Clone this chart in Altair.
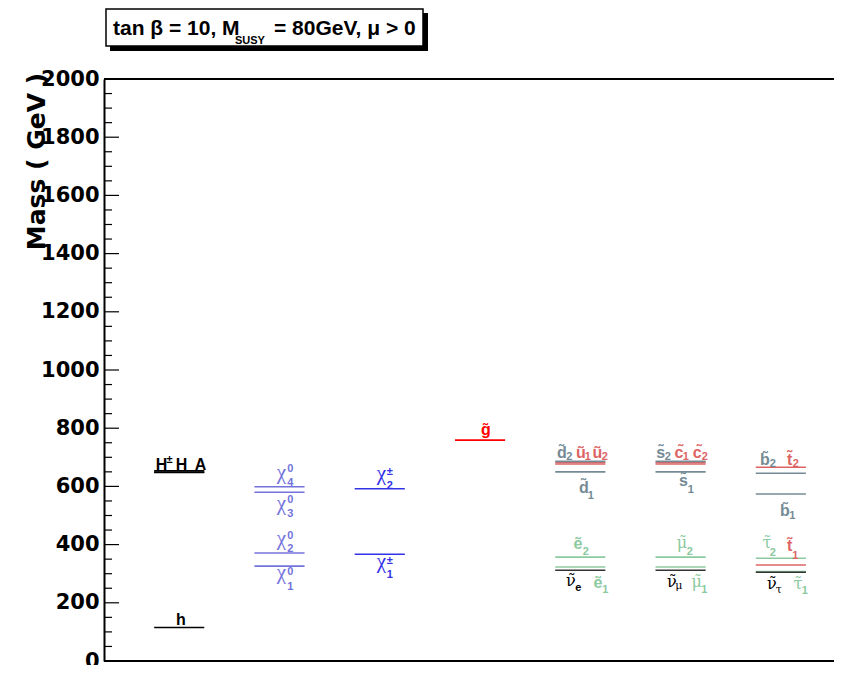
import altair as alt
import pandas as pd

# ---------------- spectrum (GeV) ----------------
P_COL = [0, 0, 0, 0,
         1, 1, 1, 1,
         2, 2,
         3,
         4, 4, 4, 4, 4, 4, 4,
         5, 5, 5, 5, 5, 5, 5,
         6, 6, 6, 6, 6, 6, 6]
P_NAME = ["h", "H±", "H", "A",
          "χ01", "χ02", "χ03", "χ04",
          "χ±1", "χ±2",
          "g̃",
          "ẽ2", "ẽ1", "ũ1", "ũ2", "d̃1", "d̃2", "ν̃e",
          "μ̃2", "μ̃1", "c̃1", "c̃2", "s̃1", "s̃2", "ν̃μ",
          "τ̃2", "τ̃1", "t̃1", "t̃2", "b̃1", "b̃2", "ν̃τ"]
P_MASS = [115, 654, 648, 649,
          326, 371, 580, 599,
          367, 592,
          759,
          357, 323, 677, 682, 650, 686, 312,
          357, 323, 677, 682, 650, 686, 312,
          353, 307, 330, 666, 574, 645, 305]
P_GROUP = (["higgs"] * 4 + ["neutralino"] * 4 + ["chargino"] * 2 + ["gluino"]
           + ["slepton", "slepton", "upsquark", "upsquark", "downsquark", "downsquark", "sneutrino"] * 3)

GROUP_COLOR = {
    "higgs": "#000000",
    "black": "#000000",
    "neutralino": "#7373dc",
    "chargino": "#3232e6",
    "gluino": "#ff0000",
    "downsquark": "#748b96",
    "upsquark": "#dc6464",
    "slepton": "#8ccaa0",
    "sneutrino": "#333333",
}

# ---------------- labels (anchor x in column units, y in GeV) ----------------
L_TEXT = ["h", "H", "±", "H", "A",
          "χ", "0", "4", "χ", "0", "3", "χ", "0", "2", "χ", "0", "1",
          "χ", "±", "2", "χ", "±", "1",
          "g̃",
          "d̃", "2", "ũ", "1", "ũ", "2", "d̃", "1",
          "s̃", "2", "c̃", "1", "c̃", "2", "s̃", "1",
          "b̃", "2", "t̃", "2", "b̃", "1",
          "ẽ", "2", "ν̃", "e", "ẽ", "1",
          "μ̃", "2", "ν̃", "μ", "μ̃", "1",
          "τ̃", "2", "t̃", "1", "ν̃", "τ", "τ̃", "1"]
L_X = [0.768, 0.573, 0.653, 0.773, 0.962,
       1.770, 1.859, 1.859, 1.770, 1.859, 1.859, 1.770, 1.859, 1.859, 1.770, 1.859, 1.859,
       2.767, 2.851, 2.851, 2.767, 2.851, 2.851,
       3.809,
       4.566, 4.641, 4.756, 4.826, 4.920, 4.995, 4.786, 4.855,
       5.553, 5.623, 5.733, 5.803, 5.917, 5.992, 5.778, 5.852,
       6.590, 6.670, 6.839, 6.899, 6.790, 6.864,
       4.726, 4.806, 4.656, 4.731, 4.925, 5.000,
       5.763, 5.842, 5.663, 5.733, 5.912, 5.987,
       6.610, 6.670, 6.839, 6.894, 6.660, 6.730, 6.919, 6.989]
L_Y = [123, 657, 679, 657, 657,
       627, 651, 600, 519, 543, 495, 397, 418, 373, 282, 296, 245,
       621, 638, 590, 321, 334, 285,
       775,
       696, 690, 696, 690, 696, 690, 579, 555,
       696, 690, 696, 690, 696, 690, 600, 579,
       672, 667, 675, 667, 497, 487,
       384, 364, 258, 240, 252, 235,
       387, 363, 254, 246, 253, 235,
       389, 361, 378, 352, 246, 233, 246, 229]
L_KIND = ["sym", "sym", "sub", "sym", "sym",
          "chi", "sub", "sub", "chi", "sub", "sub", "chi", "sub", "sub", "chi", "sub", "sub",
          "chi", "sub", "sub", "chi", "sub", "sub",
          "sym",
          "sym", "sub", "sym", "sub", "sym", "sub", "sym", "sub",
          "sym", "sub", "sym", "sub", "sym", "sub", "sym", "sub",
          "sym", "sub", "sym", "sub", "sym", "sub",
          "sym", "sub", "greek", "sub", "sym", "sub",
          "greek", "sub", "greek", "gsub", "greek", "sub",
          "greek", "sub", "sym", "sub", "greek", "gsub", "greek", "sub"]
L_GROUP = ["higgs"] * 5 + ["neutralino"] * 12 + ["chargino"] * 6 + ["gluino"] + [
    "downsquark", "downsquark", "upsquark", "upsquark", "upsquark", "upsquark", "downsquark", "downsquark",
    "downsquark", "downsquark", "upsquark", "upsquark", "upsquark", "upsquark", "downsquark", "downsquark",
    "downsquark", "downsquark", "upsquark", "upsquark", "downsquark", "downsquark",
    "slepton", "slepton", "black", "black", "slepton", "slepton",
    "slepton", "slepton", "black", "black", "slepton", "slepton",
    "slepton", "slepton", "upsquark", "upsquark", "black", "black", "slepton", "slepton"]

Y_MAJOR = list(range(0, 2001, 200))
Y_MINOR = [v for v in range(0, 2001, 50) if v % 200]

# ---------------- frames ----------------
particles = pd.DataFrame({"name": P_NAME, "col": P_COL, "mass": P_MASS,
                          "color": [GROUP_COLOR[g] for g in P_GROUP]})
labels = pd.DataFrame({"text": L_TEXT, "x": L_X, "mass": L_Y, "kind": L_KIND,
                       "color": [GROUP_COLOR[g] for g in L_GROUP]})
major = pd.DataFrame({"mass": Y_MAJOR})
minor = pd.DataFrame({"mass": Y_MINOR})
one = pd.DataFrame({"a": [0]})

W, H = 730, 582
xs = alt.Scale(domain=[0, 7.28], nice=False, zero=False)
ys = alt.Scale(domain=[0, 2000], nice=False)

yaxis = alt.Axis(values=Y_MAJOR, format="d", ticks=False, grid=False, domain=True,
                 domainColor="black", domainWidth=2,
                 labelFont="DejaVu Sans", labelFontWeight="bold", labelFontSize=21,
                 labelColor="black", labelPadding=5,
                 title="Mass ( GeV )", titleFont="DejaVu Sans", titleFontWeight="bold",
                 titleFontSize=25, titleColor="black", titleAngle=270,
                 titleAlign="center", titleBaseline="alphabetic", titleX=-60, titleY=82)

lines = alt.Chart(particles).transform_calculate(
    x="datum.col + 0.5", xe="datum.col + 1.0"
).mark_rule(strokeWidth=1.6).encode(
    x=alt.X("x:Q", scale=xs, axis=None),
    x2="xe:Q",
    y=alt.Y("mass:Q", scale=ys, axis=yaxis),
    color=alt.Color("color:N", scale=None),
)

tick_major = alt.Chart(major).mark_rule(color="black", strokeWidth=1.2).encode(
    y=alt.Y("mass:Q", scale=ys), x=alt.value(0), x2=alt.value(15))
tick_minor = alt.Chart(minor).mark_rule(color="black", strokeWidth=1.2).encode(
    y=alt.Y("mass:Q", scale=ys), x=alt.value(0), x2=alt.value(8))

top_line = alt.Chart(one).mark_rule(color="black", strokeWidth=2).encode(
    x=alt.value(0), x2=alt.value(W), y=alt.value(0))
bottom_line = alt.Chart(one).mark_rule(color="black", strokeWidth=2.2).encode(
    x=alt.value(0), x2=alt.value(W), y=alt.value(H))


def label_layer(kind, font, size, weight):
    return alt.Chart(labels).transform_filter(alt.datum.kind == kind).mark_text(
        font=font, fontSize=size, fontWeight=weight, align="center", baseline="alphabetic"
    ).encode(
        x=alt.X("x:Q", scale=xs, axis=None),
        y=alt.Y("mass:Q", scale=ys),
        text="text:N",
        color=alt.Color("color:N", scale=None),
    )


sym_l = label_layer("sym", "Liberation Sans", 16, "bold")
sub_l = label_layer("sub", "Liberation Sans", 11, "bold")
chi_l = label_layer("chi", "Liberation Serif", 21, "normal")
greek_l = label_layer("greek", "DejaVu Serif", 16, "normal")
gsub_l = label_layer("gsub", "DejaVu Serif", 11, "normal")

# ---------------- title box ----------------
shadow = alt.Chart(one).mark_rect(color="black").encode(
    x=alt.value(6), x2=alt.value(324), y=alt.value(-66), y2=alt.value(-28))
box = alt.Chart(one).mark_rect(fill="white", stroke="black", strokeWidth=1.5).encode(
    x=alt.value(2), x2=alt.value(319), y=alt.value(-70), y2=alt.value(-33))
t1 = alt.Chart(one).mark_text(text="tan β = 10, M", font="Liberation Sans", fontSize=21,
                              fontWeight="bold", align="left", baseline="alphabetic",
                              color="black").encode(x=alt.value(9), y=alt.value(-44))
t2 = alt.Chart(one).mark_text(text="SUSY", font="Liberation Sans", fontSize=11,
                              fontWeight="bold", align="left", baseline="alphabetic",
                              color="black").encode(x=alt.value(131), y=alt.value(-35))
t3 = alt.Chart(one).mark_text(text="= 80GeV, μ > 0", font="Liberation Sans", fontSize=21,
                              fontWeight="bold", align="left", baseline="alphabetic",
                              color="black").encode(x=alt.value(170), y=alt.value(-44))

chart = alt.layer(
    lines, tick_major, tick_minor, top_line, bottom_line,
    sym_l, sub_l, chi_l, greek_l, gsub_l,
    shadow, box, t1, t2, t3,
).properties(
    width=W, height=H,
    autosize=alt.AutoSizeParams(type="none"),
    padding={"left": 96, "top": 71, "right": 0, "bottom": 4},
    background="white",
).configure_view(strokeWidth=0)

chart.save("out.html", embed_options={"renderer": "svg", "actions": False})
